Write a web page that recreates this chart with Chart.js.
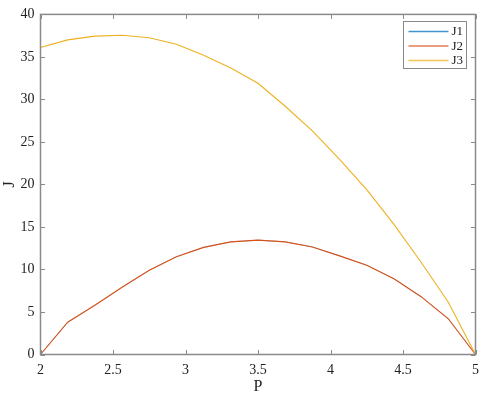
<!DOCTYPE html>
<html>
<head>
<meta charset="utf-8">
<script src="https://cdn.jsdelivr.net/npm/chart.js@4.4.1/dist/chart.umd.min.js"></script>
<style>
  html, body { margin: 0; padding: 0; background: #fff; }
  #wrap { width: 486px; height: 397px; }
</style>
</head>
<body>
<div id="wrap"><canvas id="grafico"></canvas></div>
<script>
// valores
const P = [2, 2.1875, 2.375, 2.5625, 2.75, 2.9375, 3.125, 3.3125, 3.5,
           3.6875, 3.875, 4.0625, 4.25, 4.4375, 4.625, 4.8125, 5];
const J1 = [0, 3.8, 5.8, 7.9, 9.9, 11.5, 12.6, 13.25, 13.45,
            13.25, 12.65, 11.6, 10.5, 8.9, 6.8, 4.2, 0];
const J2 = [0, 3.8, 5.8, 7.9, 9.9, 11.5, 12.6, 13.25, 13.45,
            13.25, 12.65, 11.6, 10.5, 8.9, 6.8, 4.2, 0];
const J3 = [36.1, 37.0, 37.45, 37.55, 37.25, 36.5, 35.2, 33.7, 31.9,
            29.2, 26.3, 22.95, 19.4, 15.3, 10.85, 6.15, 0];
const rotulos = ['J1', 'J2', 'J3'];
const cores = ['#0072BD', '#D95319', '#EDB120'];
const larguras = [0.4, 1.1, 1.1];

const fonte = '"Liberation Serif", "Times New Roman", Times, serif';
const corEixo = '#8a8a8a';

function pontos(ys) {
    return P.map((x, i) => ({ x: x, y: ys[i] }));
}

// caixa, marcas para dentro e legenda
const caixaPlugin = {
    id: 'caixa',
    afterDraw(chart) {
        const ctx = chart.ctx;
        const a = chart.chartArea;
        const sx = chart.scales.x;
        const sy = chart.scales.y;
        const tam = 4.5;
        ctx.save();
        ctx.strokeStyle = corEixo;
        ctx.lineWidth = 1;
        ctx.beginPath();
        sx.ticks.forEach(t => {
            const px = Math.round(sx.getPixelForValue(t.value)) + 0.5;
            ctx.moveTo(px, a.bottom); ctx.lineTo(px, a.bottom - tam);
            ctx.moveTo(px, a.top); ctx.lineTo(px, a.top + tam);
        });
        sy.ticks.forEach(t => {
            const py = Math.round(sy.getPixelForValue(t.value)) + 0.5;
            ctx.moveTo(a.left, py); ctx.lineTo(a.left + tam, py);
            ctx.moveTo(a.right, py); ctx.lineTo(a.right - tam, py);
        });
        ctx.stroke();
        ctx.lineWidth = 1.5;
        ctx.strokeRect(a.left, a.top, a.right - a.left, a.bottom - a.top);

        // legenda
        const lx = 403.5, ly = 21.5, lw = 63, lh = 47;
        ctx.fillStyle = '#fff';
        ctx.fillRect(lx, ly, lw, lh);
        ctx.lineWidth = 1;
        ctx.strokeStyle = '#8a8a8a';
        ctx.strokeRect(lx, ly, lw, lh);
        ctx.font = '13px ' + fonte;
        ctx.textBaseline = 'middle';
        ctx.textAlign = 'left';
        chart.data.datasets.forEach((ds, i) => {
            const y = ly + 10 + i * 14.5;
            ctx.strokeStyle = ds.borderColor;
            ctx.globalAlpha = 0.75;
            ctx.lineWidth = 1.3;
            ctx.beginPath();
            ctx.moveTo(lx + 5, y); ctx.lineTo(lx + 45, y);
            ctx.stroke();
            ctx.globalAlpha = 1;
            ctx.fillStyle = '#222';
            ctx.fillText(ds.label, lx + 48, y + 0.5);
        });
        ctx.restore();
    }
};

const ctxJ = document.getElementById('grafico').getContext('2d');
new Chart(ctxJ, {
    type: 'line',
    data: {
        datasets: [J1, J2, J3].map((ys, i) => ({
            label: rotulos[i],
            data: pontos(ys),
            borderColor: cores[i],
            backgroundColor: cores[i],
            borderWidth: larguras[i],
            pointRadius: 0,
            tension: 0,
            fill: false,
            order: 3 - i
        }))
    },
    options: {
        responsive: true,
        maintainAspectRatio: false,
        animation: false,
        layout: { padding: { left: 0, right: 4, top: 12.5, bottom: 0 } },
        plugins: {
            legend: { display: false },
            tooltip: { enabled: false }
        },
        scales: {
            x: {
                type: 'linear',
                min: 2,
                max: 5,
                border: { display: false },
                grid: { display: false, drawTicks: false },
                ticks: {
                    stepSize: 0.5,
                    padding: 7,
                    color: '#222',
                    font: { family: fonte, size: 14 },
                    maxRotation: 0,
                    callback: v => String(v)
                },
                title: {
                    display: true,
                    text: 'P',
                    color: '#222',
                    font: { family: fonte, size: 16 },
                    padding: { top: 1, bottom: 1 }
                },
                afterFit(s) { s.height = 42.5; }
            },
            y: {
                min: 0,
                max: 40,
                border: { display: false },
                grid: { display: false, drawTicks: false },
                ticks: {
                    stepSize: 5,
                    padding: 6,
                    color: '#222',
                    font: { family: fonte, size: 14 }
                },
                title: {
                    display: true,
                    text: 'J',
                    color: '#222',
                    font: { family: fonte, size: 16 },
                    padding: { top: 0, bottom: 1 }
                },
                afterFit(s) { s.width = 40.5; }
            }
        }
    },
    plugins: [caixaPlugin]
});
</script>
</body>
</html>
